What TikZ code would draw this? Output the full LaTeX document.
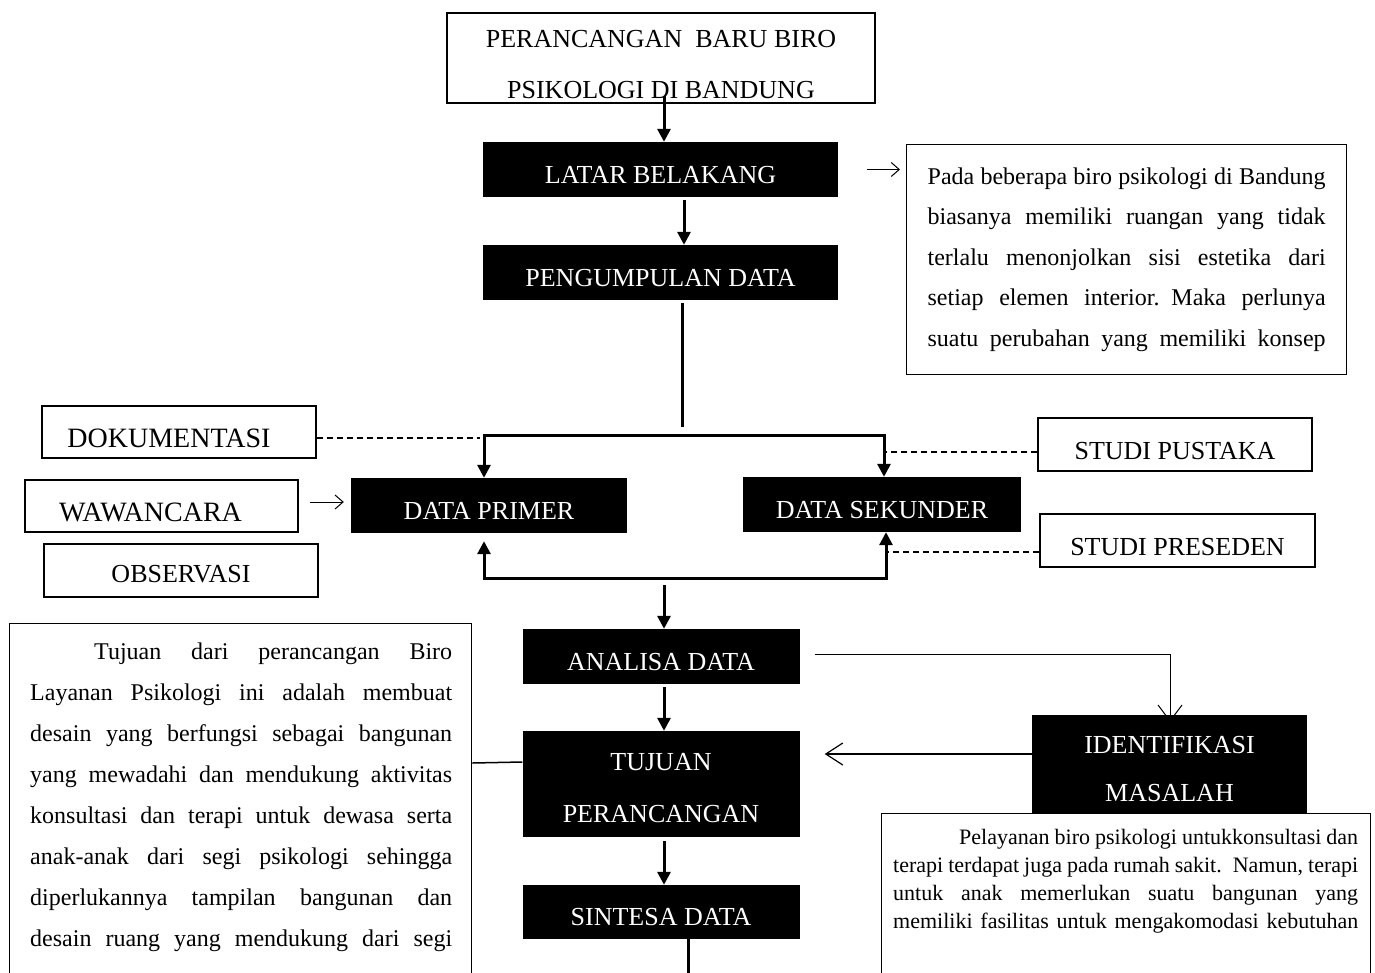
\documentclass[tikz,border=0pt]{standalone}
\usepackage{fontspec}
\setmainfont{Liberation Serif}
\usetikzlibrary{arrows.meta,calc}
\pgfdeclarelayer{bg}
\pgfsetlayers{bg,main}
\newcommand\jline[2]{\leavevmode\hbox to #1{\spaceskip=0.25em plus 3em minus 0.12em\relax #2}}
\begin{document}
\begin{tikzpicture}[x=1pt,y=-1pt,
  lab/.style={font=\fontsize{26}{31}\selectfont, inner sep=0pt, text height=27pt, text depth=0pt},
  blk/.style={lab, fill=black, text=white},
  blktwo/.style={fill=black, text=white, inner sep=0pt, align=center},
  wbx/.style={lab, draw, line width=1.3pt},
  bdr/.style={draw, line width=1.3pt, fill=white, inner sep=0pt},
  flow/.style={line width=3pt, -{Triangle[length=13pt,width=13pt]}},
  thk/.style={line width=3pt},
  dsh/.style={line width=1.3pt, dash pattern=on 6pt off 4pt},
  barb/.style={line width=1pt, -{Straight Barb[length=8pt,width=14pt]}},
  para/.style={inner sep=0pt, anchor=north west, align=left}
]
\useasboundingbox (0,0) rectangle (1375,972);
\clip (0,0) rectangle (1375,972);

% top box
\node[bdr, minimum width=428pt, minimum height=90pt] (top) at (661,58) {};
\begin{scope}
  \clip ($(top.north west)+(1,1)$) rectangle ($(top.south east)+(-1,-3)$);
  \node[font=\fontsize{26}{51}\selectfont, align=center, anchor=north, inner sep=0pt] (toptext) at (661,30) {PERANCANGAN\ \ BARU BIRO\\PSIKOLOGI DI BANDUNG};
\end{scope}

% main column
\node[blk, minimum width=355pt, minimum height=55pt] (lat) at (660.5,169.5) {LATAR BELAKANG};
\node[blk, minimum width=355pt, minimum height=55pt] (peng) at (660.5,272.5) {PENGUMPULAN DATA};
\node[blk, minimum width=276pt, minimum height=55pt] (prim) at (489,505.5) {DATA PRIMER};
\node[blk, minimum width=278pt, minimum height=55pt] (sek) at (882,504.5) {DATA SEKUNDER};
\node[blk, minimum width=277pt, minimum height=55pt] (ana) at (661,656.5) {ANALISA DATA};
\node[blktwo, font=\fontsize{26}{52}\selectfont, minimum width=277pt, minimum height=106pt] (tuj) at (661,784) {\rule{0pt}{25pt}TUJUAN\\PERANCANGAN};
\node[blk, minimum width=277pt, minimum height=54pt] (sin) at (661,912) {SINTESA DATA};
\node[blktwo, font=\fontsize{26}{48}\selectfont, minimum width=275pt, minimum height=109pt] (idm) at (1169.5,769.5) {IDENTIFIKASI\\MASALAH};

% side boxes
\node[wbx, font=\fontsize{28}{33}\selectfont, text height=31pt, minimum width=274pt, minimum height=52pt] (dok) at (179,432) {\hspace*{-20pt}DOKUMENTASI};
\node[wbx, font=\fontsize{28}{33}\selectfont, text height=30pt, minimum width=273pt, minimum height=52pt] (waw) at (161.5,506) {\hspace*{-22pt}WAWANCARA};
\node[wbx, text height=24pt, minimum width=274pt, minimum height=53pt] (obs) at (181,570.5) {OBSERVASI};
\node[wbx, text height=29pt, minimum width=274pt, minimum height=53pt] (sp) at (1175,444.5) {STUDI PUSTAKA};
\node[wbx, text height=29pt, minimum width=275pt, minimum height=53pt] (spr) at (1177.5,540.5) {STUDI PRESEDEN};

% right description box
\node[draw, line width=1.3pt, anchor=north west, minimum width=440pt, minimum height=230pt,
      text width=398pt, inner xsep=21pt, inner ysep=0pt, align=left,
      font=\fontsize{24}{40.5}\selectfont] (why) at (906,144) {%
\noindent\jline{398pt}{Pada beberapa biro psikologi di Bandung}\\
\jline{398pt}{biasanya memiliki ruangan yang tidak}\\
\jline{398pt}{terlalu menonjolkan sisi estetika dari}\\
\jline{398pt}{setiap elemen interior. Maka perlunya}\\
\jline{398pt}{suatu perubahan yang memiliki konsep}};

% left goal box
\node[bdr, anchor=north west, minimum width=462pt, minimum height=420pt] (goalbox) at (9,623) {};
\node[para, text width=422pt, font=\fontsize{24}{41}\selectfont] (goal) at ($(goalbox.north west)+(21,19.7)$) {%
\noindent\hspace*{64pt}\jline{358pt}{Tujuan dari perancangan Biro}\\
\jline{422pt}{Layanan Psikologi ini adalah membuat}\\
\jline{422pt}{desain yang berfungsi sebagai bangunan}\\
\jline{422pt}{yang mewadahi dan mendukung aktivitas}\\
\jline{422pt}{konsultasi dan terapi untuk dewasa serta}\\
\jline{422pt}{anak-anak dari segi psikologi sehingga}\\
\jline{422pt}{diperlukannya tampilan bangunan dan}\\
\jline{422pt}{desain ruang yang mendukung dari segi}};

% bottom right box
\node[bdr, anchor=north west, minimum width=489pt, minimum height=220pt] (needbox) at (881,813) {};
\node[para, text width=465pt, font=\fontsize{22}{28}\selectfont] (need) at ($(needbox.north west)+(12,16.1)$) {%
\noindent\hspace*{66pt}\jline{399pt}{Pelayanan biro psikologi untukkonsultasi dan}\\
\jline{465pt}{terapi terdapat juga pada rumah sakit. Namun, terapi}\\
\jline{465pt}{untuk anak memerlukan suatu bangunan yang}\\
\jline{465pt}{memiliki fasilitas untuk mengakomodasi kebutuhan}};

% junction coordinates
\coordinate (pend) at (682,427);
\coordinate (hl) at (484,435);
\coordinate (hr) at (884,435);
\coordinate (bl) at (484,578);
\coordinate (br) at (886,578);

% main connectors
\draw[flow] ($(top.south)+(3,-8)$) -- ($(lat.north)+(3.5,0)$);
\draw[flow] ($(lat.south)+(23.5,3)$) -- ($(peng.north)+(23.5,0)$);
\draw[thk] ($(peng.south)+(21.5,3)$) -- (pend);
\draw[flow] (hr) -- (hl) -- (hl |- prim.north);
\draw[flow] (hl) -- (hr) -- (hr |- sek.north);
\draw[flow] (br) -- (bl) -- ($(bl |- prim.south)+(0,8)$);
\draw[flow] (bl) -- (br) -- (br |- sek.south);
\draw[flow] ($(ana.north)+(3,-44)$) -- ($(ana.north)+(3,0)$);
\draw[flow] ($(ana.south)+(3,3)$) -- ($(tuj.north)+(3,0)$);
\draw[flow] ($(tuj.south)+(3,4)$) -- ($(sin.north)+(3,0)$);
\draw[thk] ($(sin.south)+(27,0)$) -- ($(sin.south)+(27,50)$);

% dashed links
\draw[dsh] ($(dok.east)+(0,6)$) -- ($(dok.east -| hl)+(-4,6)$);
\draw[dsh] ($(sp.west)+(0,7.5)$) -- ($(sp.west -| hr)+(0,7.5)$);
\draw[dsh] ($(spr.west)+(0,11.5)$) -- ($(spr.west -| br)+(2,11.5)$);

% thin arrows
\draw[barb] ($(waw.east)+(11,-4)$) -- ($(prim.west)+(-7,-3.5)$);
\draw[barb] ($(lat.east)+(29,0)$) -- ($(why.west |- lat.east)+(-6,0)$);
\begin{pgfonlayer}{bg}
\draw[line width=1pt, -{Straight Barb[length=16pt,width=24pt]}] ($(ana.east)+(15,-2.5)$) -| ($(idm.north)+(0.5,7)$);
\end{pgfonlayer}
\draw[line width=1.2pt, -{Straight Barb[length=17pt,width=22pt]}] ($(idm.west)+(0,-15.5)$) -- ($(tuj.east)+(25,-30)$);
\draw[line width=1.5pt] ($(goalbox.north east)+(0,140)$) -- ($(tuj.west)+(0,-22)$);
\end{tikzpicture}
\end{document}
